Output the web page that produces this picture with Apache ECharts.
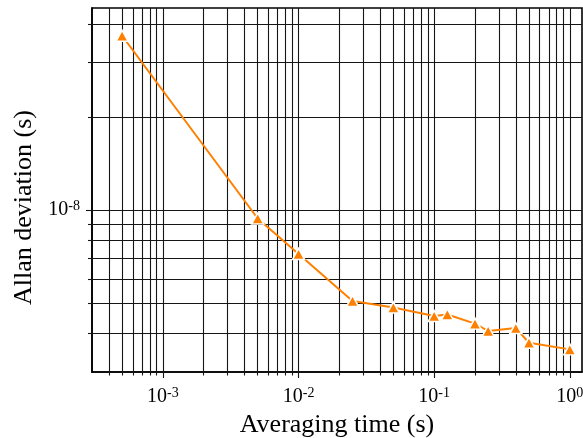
<!DOCTYPE html>
<html>
<head>
<meta charset="utf-8">
<script src="https://cdn.jsdelivr.net/npm/echarts@6/dist/echarts.min.js"></script>
<style>
  html, body { margin: 0; padding: 0; background: #fff; }
  #chart { width: 583px; height: 438px; }
</style>
</head>
<body>
<div id="chart"></div>
<script>
// Averaging time tau (s) and measured Allan deviation (s)
const tau  = [5e-4, 5e-3, 1e-2, 2.5e-2, 5e-2, 0.1, 0.125, 0.2, 0.25, 0.4, 0.5, 1];
const adev = [3.66e-8, 9.4e-9, 7.22e-9, 5.09e-9, 4.85e-9, 4.55e-9, 4.6e-9, 4.3e-9, 4.07e-9, 4.16e-9, 3.73e-9, 3.55e-9];

// Axis ranges
const xMin = 3e-4, xMax = 1.23;
const yMin = 3e-9, yMax = 4.5e-8;

// Log grid lines (1..9 per decade inside the ranges)
const xGridValues = [4e-4, 5e-4, 6e-4, 7e-4, 8e-4, 9e-4,
  1e-3, 2e-3, 3e-3, 4e-3, 5e-3, 6e-3, 7e-3, 8e-3, 9e-3,
  1e-2, 2e-2, 3e-2, 4e-2, 5e-2, 6e-2, 7e-2, 8e-2, 9e-2,
  1e-1, 2e-1, 3e-1, 4e-1, 5e-1, 6e-1, 7e-1, 8e-1, 9e-1, 1];
const yGridValues = [4e-9, 5e-9, 6e-9, 7e-9, 8e-9, 9e-9, 1e-8, 2e-8, 3e-8, 4e-8];

const FONT = 'Liberation Serif';
const GRID = { left: 92, right: 1, top: 8, bottom: 66 };
const H = 438;
const plotBottom = H - GRID.bottom;

function isDecade(v) {
  const l = Math.log10(v);
  return Math.abs(l - Math.round(l)) < 1e-6;
}
function powLabel(v) {
  if (!isDecade(v)) return '';
  return '{b|10}{s|' + Math.round(Math.log10(v)) + '}';
}

const gridLineStyle = { color: '#151515', width: 1.1, type: 'solid' };

// full-span grid lines, given by both end points
const gridLines = []
  .concat(xGridValues.map(v => [{ xAxis: v, yAxis: yMin }, { xAxis: v, yAxis: yMax }]))
  .concat(yGridValues.map(v => [{ xAxis: xMin, yAxis: v }, { xAxis: xMax, yAxis: v }]));

// short outward ticks on the bottom and left axes
const tickLines = [];
xGridValues.forEach(v => {
  const len = isDecade(v) ? 6 : 3.5;
  tickLines.push([{ xAxis: v, yAxis: yMin }, { xAxis: v, yAxis: yMin, y: plotBottom + len }]);
});
yGridValues.forEach(v => {
  const len = isDecade(v) ? 6 : 4;
  tickLines.push([{ xAxis: xMin, yAxis: v }, { xAxis: xMin, yAxis: v, x: GRID.left - len }]);
});

const richLabel = {
  b: { fontFamily: FONT, fontSize: 20, color: '#000', lineHeight: 22 },
  s: { fontFamily: FONT, fontSize: 14, color: '#000', verticalAlign: 'top', lineHeight: 14 }
};

const chart = echarts.init(document.getElementById('chart'), null, { renderer: 'canvas' });
chart.setOption({
  animation: false,
  backgroundColor: '#fff',
  grid: Object.assign({
    show: true, borderColor: '#000', borderWidth: 1.6, backgroundColor: 'transparent',
    containLabel: false, outerBoundsMode: 'none'
  }, GRID),
  xAxis: {
    type: 'log', logBase: 10, min: xMin, max: xMax,
    name: 'Averaging time (s)', nameLocation: 'middle', nameGap: 37,
    nameTextStyle: { fontFamily: FONT, fontSize: 26, color: '#000' },
    axisLine: { show: true, lineStyle: { color: '#000', width: 1.6 } },
    axisTick: { show: false },
    splitLine: { show: false },
    axisLabel: { formatter: powLabel, margin: 14, rich: richLabel, showMinLabel: false, showMaxLabel: false }
  },
  yAxis: {
    type: 'log', logBase: 10, min: yMin, max: yMax,
    name: 'Allan deviation (s)', nameLocation: 'middle', nameGap: 54, nameRotate: 90,
    nameTextStyle: { fontFamily: FONT, fontSize: 26, color: '#000', padding: [0, 35, 0, 0] },
    axisLine: { show: true, lineStyle: { color: '#000', width: 1.6 } },
    axisTick: { show: false },
    splitLine: { show: false },
    axisLabel: { formatter: powLabel, margin: 12, rich: richLabel, showMinLabel: false, showMaxLabel: false }
  },
  series: [
    {
      // carrier for the grid and tick lines
      type: 'line', data: [], z: 1, silent: true,
      markLine: {
        silent: true, z: 1, animation: false,
        symbol: ['none', 'none'],
        label: { show: false },
        emphasis: { disabled: true },
        lineStyle: gridLineStyle,
        data: gridLines.concat(tickLines)
      }
    },
    {
      type: 'line', z: 10,
      data: tau.map((t, i) => [t, adev[i]]),
      symbol: 'triangle', symbolSize: [12, 11],
      lineStyle: { color: '#FF8000', width: 2 },
      itemStyle: { color: '#FF8000', borderColor: '#fff', borderWidth: 1.5 },
      emphasis: { disabled: true }
    }
  ]
});
</script>
</body>
</html>
